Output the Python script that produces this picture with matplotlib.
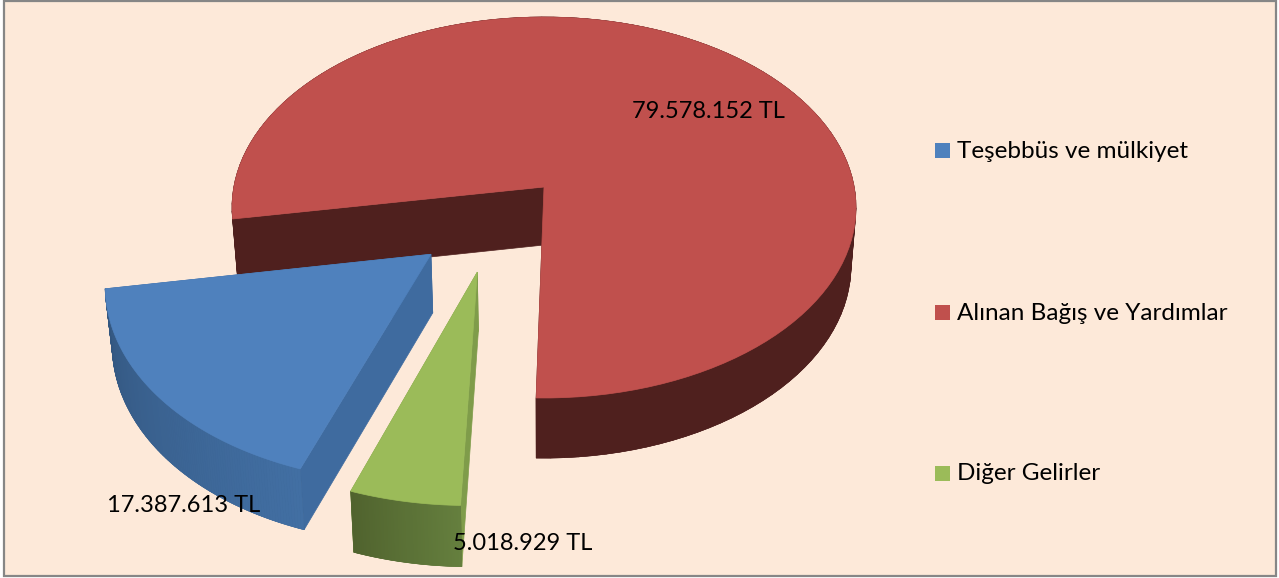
import numpy as np
import matplotlib
matplotlib.use("Agg")
import matplotlib.pyplot as plt
from matplotlib.collections import PolyCollection
from matplotlib.colors import to_rgb
from matplotlib.patches import Polygon, Rectangle

plt.rcParams["font.family"] = ["Lato", "DejaVu Sans"]

# Data
categories = ["Teşebbüs ve mülkiyet", "Alınan Bağış ve Yardımlar", "Diğer Gelirler"]
values = [17387613, 79578152, 5018929]

# Styles
top_colors = ["#4f81bd", "#c0504d", "#9bbb59"]
wall_left_colors = ["#426fa3", "#4f201e", "#66803f"]
wall_right_colors = ["#33567f", "#4f201e", "#50632e"]
cut_colors = ["#3f6b9f", "#4f201e", "#7f9c4a"]
bg_color = "#fde9d9"

# Fake perspective of the 3D pie, in pixels of the 1279x578 picture
X0, Y0 = 544, 187
A, B, K = 310.2, 188.3, 0.1076
DEPTH = 58
DEPTH_Y, SHRINK_X = 1.01, 0.984
RED_END = 181.3  # clockwise from the top, where the red slice stops
explode = [(-0.351, -0.344), (0.0, 0.0), (-0.205, -0.431)]

label_pos = [(107, 505), (632, 111), (453, 543)]
legend_y = [150.5, 312.5, 473.5]


def project(theta_deg, r, offset):
    theta = np.radians(theta_deg)
    u = r * np.sin(theta) + offset[0]
    v = r * np.cos(theta) + offset[1]
    w = 1 + K * v
    return np.column_stack([X0 + A * u / w, Y0 - B * v / w])


def lower(pts):
    pts = np.atleast_2d(pts)
    x = X0 + SHRINK_X * (pts[:, 0] - X0)
    y = Y0 + DEPTH + DEPTH_Y * (pts[:, 1] - Y0)
    return np.column_stack([x, y])


def mix(c1, c2, t):
    return tuple((1 - t) * a + t * b for a, b in zip(to_rgb(c1), to_rgb(c2)))


fig = plt.figure(figsize=(12.79, 5.78), dpi=100, facecolor="white")
ax = fig.add_axes([0, 0, 1, 1])
ax.set_xlim(0, 1279)
ax.set_ylim(578, 0)
ax.axis("off")

ax.add_patch(Rectangle((4, 0.5), 1272, 575, facecolor=bg_color,
                       edgecolor="#868686", lw=1.6, zorder=0))

# slice angles come from the values; blue, red, green run clockwise
sweeps = np.array(values) / sum(values) * 360
red_start = RED_END - sweeps[1]
blue_start = red_start - sweeps[0]
starts = [blue_start, red_start, blue_start - sweeps[2]]

# red first, then blue, then green so the front slices sit on top
for n, i in enumerate([1, 0, 2]):
    angles = np.linspace(starts[i], starts[i] + sweeps[i], 120)
    arc = project(angles, 1.0, explode[i])
    apex = project(np.array([0.0]), 0.0, explode[i])[0]
    low = lower(arc)
    apex_low = lower(apex)[0]
    z = 2 + n * 4

    # the two cut faces go under the outer wall
    for p_top, p_low in [(arc[0], low[0]), (arc[-1], low[-1])]:
        ax.add_patch(Polygon([apex, p_top, p_low, apex_low], closed=True,
                             facecolor=cut_colors[i], edgecolor=cut_colors[i],
                             lw=0.5, zorder=z))

    # outer wall: a solid base, then shaded strips on it
    mid = mix(wall_left_colors[i], wall_right_colors[i], 0.5)
    ax.add_patch(Polygon(np.vstack([arc, low[::-1]]), closed=True, facecolor=mid,
                         edgecolor=mid, lw=0.4, zorder=z + 1))
    segs = [[arc[j], arc[j + 1], low[j + 1], low[j]] for j in range(len(arc) - 1)]
    seg_colors = [mix(wall_left_colors[i], wall_right_colors[i], j / (len(segs) - 1))
                  for j in range(len(segs))]
    ax.add_collection(PolyCollection(segs, facecolors=seg_colors, edgecolors=seg_colors,
                                     linewidths=0.4, zorder=z + 1))

    ax.add_patch(Polygon(np.vstack([apex, arc]), closed=True, facecolor=top_colors[i],
                         edgecolor=top_colors[i], lw=0.5, zorder=z + 2))

# value labels
for v, (x, y) in zip(values, label_pos):
    ax.text(x, y, f"{v:,} TL".replace(",", "."), fontsize=17, color="black",
            ha="left", va="center", zorder=30)

# legend
for name, color, y in zip(categories, top_colors, legend_y):
    ax.add_patch(Rectangle((935, y - 7.5), 15, 15, facecolor=color, edgecolor="none", zorder=30))
    ax.text(957, y + 0.5, name, fontsize=17.5, color="black", ha="left", va="center", zorder=30)

fig.savefig("out.png", dpi=100)
